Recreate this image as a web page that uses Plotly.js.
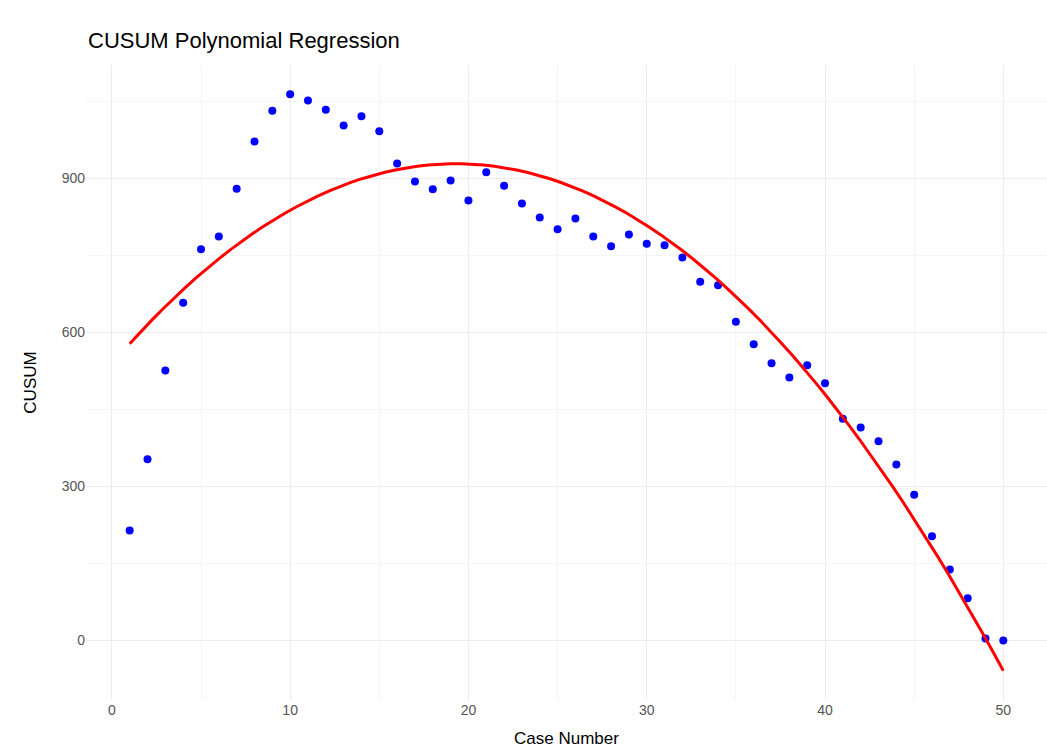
<!DOCTYPE html>
<html>
<head>
<meta charset="utf-8">
<script src="https://cdn.plot.ly/plotly-3.0.1.min.js"></script>
<style>html,body{margin:0;padding:0;background:#fff;}#chart{width:1047px;height:749px;}</style>
</head>
<body>
<div id="chart"></div>
<script>
// Case numbers and CUSUM values
const caseNumber = [1,2,3,4,5,6,7,8,9,10,11,12,13,14,15,16,17,18,19,20,21,22,23,24,25,26,27,28,29,30,31,32,33,34,35,36,37,38,39,40,41,42,43,44,45,46,47,48,49,50];
const cusum = [214,353,526,658,762,787,880,972,1032,1064,1052,1034,1003,1021,992,929,894,879,896,857,912,886,851,824,801,822,787,768,791,773,770,746,699,692,621,577,540,512,536,501,432,415,388,343,284,203,138,82,4,0];
const xTicks = [0,10,20,30,40,50];
const xMinorTicks = [5,15,25,35,45];
const yTicks = [0,300,600,900];
const yMinorTicks = [150,450,750,1050];

// Quadratic least-squares fit (as in the original polynomial regression)
function polyFit2(xs, ys) {
  const n = xs.length;
  let s = [0,0,0,0,0], t = [0,0,0];
  for (let i = 0; i < n; i++) {
    const x = xs[i], y = ys[i];
    for (let k = 0; k < 5; k++) s[k] += Math.pow(x, k);
    for (let k = 0; k < 3; k++) t[k] += Math.pow(x, k) * y;
  }
  const A = [[s[0],s[1],s[2],t[0]],[s[1],s[2],s[3],t[1]],[s[2],s[3],s[4],t[2]]];
  for (let c = 0; c < 3; c++) {
    for (let r = c + 1; r < 3; r++) {
      const f = A[r][c] / A[c][c];
      for (let k = c; k < 4; k++) A[r][k] -= f * A[c][k];
    }
  }
  const b = [0,0,0];
  for (let r = 2; r >= 0; r--) {
    let v = A[r][3];
    for (let k = r + 1; k < 3; k++) v -= A[r][k] * b[k];
    b[r] = v / A[r][r];
  }
  return b;
}
const coef = polyFit2(caseNumber, cusum);
const fitX = [], fitY = [];
const xmin = Math.min(...caseNumber), xmax = Math.max(...caseNumber);
for (let i = 0; i < 80; i++) {
  const x = xmin + (xmax - xmin) * i / 79;
  fitX.push(x);
  fitY.push(coef[0] + coef[1] * x + coef[2] * x * x);
}

const traces = [
  {x: caseNumber, y: cusum, type: 'scatter', mode: 'markers',
   marker: {color: '#0000ff', size: 8}, hoverinfo: 'x+y'},
  {x: fitX, y: fitY, type: 'scatter', mode: 'lines',
   line: {color: '#ff0000', width: 3}, hoverinfo: 'skip'}
];

const layout = {
  width: 1047, height: 749,
  paper_bgcolor: '#ffffff', plot_bgcolor: '#ffffff',
  showlegend: false,
  margin: {l: 86, r: 0, t: 65, b: 49},
  font: {family: 'Liberation Sans, Arial, sans-serif', color: '#000'},
  title: {text: 'CUSUM Polynomial Regression', font: {size: 22, color: '#000'},
          x: 88/1047, xanchor: 'left', xref: 'container',
          y: 1 - 40/749, yanchor: 'middle', yref: 'container'},
  xaxis: {
    range: [-1.45, 52.45], tickvals: xTicks, ticktext: xTicks.map(String),
    showgrid: true, gridcolor: '#ececec', gridwidth: 1, zeroline: false,
    showline: false, ticks: '', tickfont: {size: 14, color: '#555'},
    minor: {tickmode: 'array', tickvals: xMinorTicks, showgrid: true, gridcolor: '#f5f5f5', gridwidth: 1, ticks: ''},
    automargin: false
  },
  yaxis: {
    range: [-116, 1121], tickvals: yTicks, ticktext: yTicks.map(String),
    showgrid: true, gridcolor: '#ececec', gridwidth: 1, zeroline: false,
    showline: false, ticks: '', tickfont: {size: 14, color: '#555'},
    minor: {tickmode: 'array', tickvals: yMinorTicks, showgrid: true, gridcolor: '#f5f5f5', gridwidth: 1, ticks: ''},
    title: {text: 'CUSUM', font: {size: 17, color: '#000'}, standoff: 20},
    automargin: false
  },
  annotations: [{
    text: 'Case Number', showarrow: false, font: {size: 17, color: '#000'},
    xref: 'paper', x: 0.5, xanchor: 'center',
    yref: 'paper', y: -38/635, yanchor: 'middle'
  }]
};

Plotly.newPlot('chart', traces, layout, {displayModeBar: false, staticPlot: true});
</script>
</body>
</html>
